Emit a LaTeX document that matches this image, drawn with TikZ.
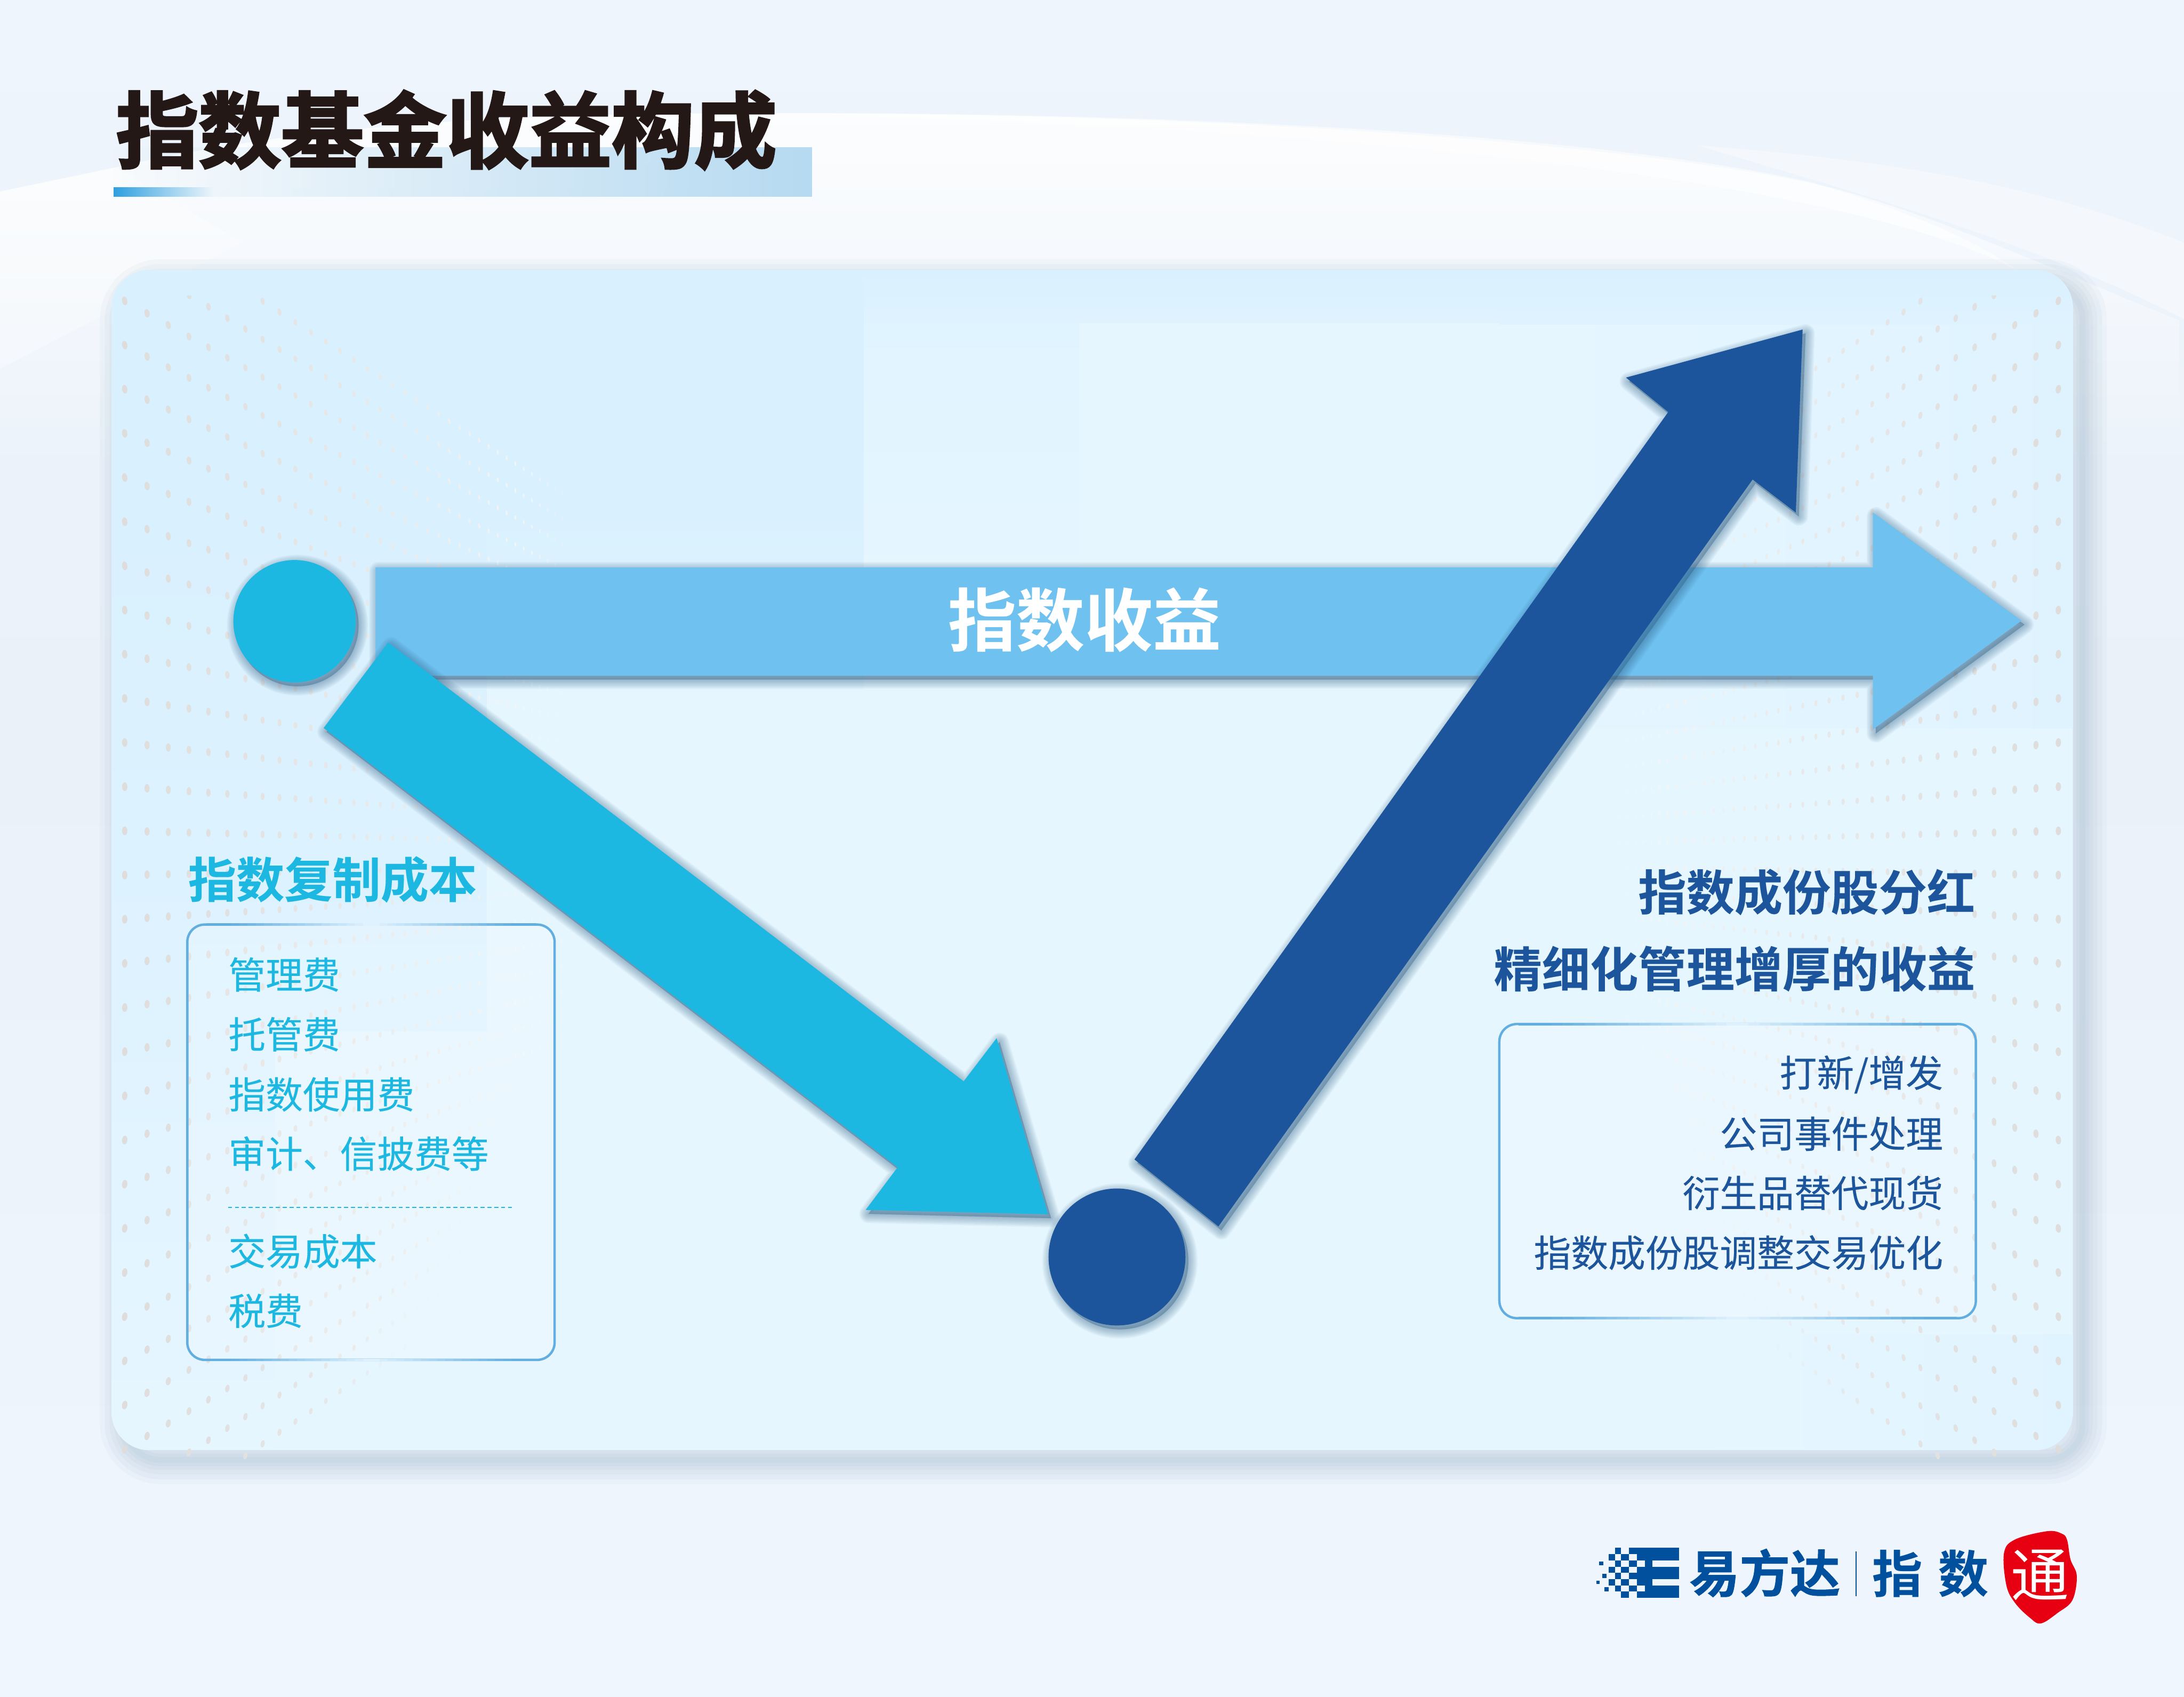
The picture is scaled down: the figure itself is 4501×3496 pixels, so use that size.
\documentclass[tikz,border=0pt]{standalone}
\usepackage{fontspec}
\usetikzlibrary{fadings,calc}
\newfontfamily\cjk{Noto Sans CJK SC}
\newfontfamily\cjkmed[FakeBold=0.25]{Noto Sans CJK SC}
\newfontfamily\cjkbold[FakeBold=0.2]{Noto Sans CJK SC Bold}
\newfontfamily\cjkheavy[FakeBold=2.6]{Noto Sans CJK SC Bold}
\newfontfamily\cjklogo[FakeBold=1]{Noto Sans CJK SC Bold}
\definecolor{arrowlight}{HTML}{6FC1F0}
\definecolor{arrowcyan}{HTML}{1DB8E2}
\definecolor{arrowblue}{HTML}{1C559B}
\definecolor{inkblack}{HTML}{231815}
\definecolor{logoblue}{HTML}{00509E}
\definecolor{sealred}{HTML}{E60012}
\definecolor{shadowc}{HTML}{2F5F85}
\definecolor{boxedge}{HTML}{63AEE0}
\definecolor{dotA}{HTML}{DEDDDC}
\definecolor{dotB}{HTML}{F3F7F8}
\definecolor{pageTop}{HTML}{EEF5FC}
\definecolor{pageMid}{HTML}{EBF1F9}
\definecolor{pageBot}{HTML}{F0F6FE}
\definecolor{panelBase}{HTML}{E6F6FF}
\definecolor{panelTile}{HTML}{D9F0FE}
\definecolor{panelTileB}{HTML}{DFF3FF}
\definecolor{panelTileC}{HTML}{E0F4FF}
\definecolor{panelShadow}{HTML}{4F7C9E}
\definecolor{edgefade}{HTML}{E2F3FE}
\definecolor{titlebar}{HTML}{B6DAF1}
\definecolor{smallbar}{HTML}{2E9FE0}
\tikzfading[name=fadeRtoL, left color=transparent!100, right color=transparent!0]
\tikzfading[name=fadeLtoR, left color=transparent!0, right color=transparent!100]
\tikzfading[name=fadeDown, top color=transparent!0, bottom color=transparent!100]
\tikzset{
  headL/.style={inner sep=0pt, anchor=west, font=\cjkbold\fontsize{28.2}{34}\selectfont},
  headR/.style={inner sep=0pt, anchor=east, font=\cjkbold\fontsize{28.2}{34}\selectfont},
  itemL/.style={inner sep=0pt, anchor=west, text=arrowcyan, font=\cjkmed\fontsize{21.8}{26}\selectfont},
  itemR/.style={inner sep=0pt, anchor=east, text=arrowblue, font=\cjkmed\fontsize{21.8}{26}\selectfont},
  dotball/.style={circle, inner sep=0pt},
  boxline/.style={draw=boxedge, line width=1.4pt, rounded corners=0.36cm, fill=white, fill opacity=0.18},
  logotext/.style={inner sep=0pt, text=logoblue},
}
\newcommand{\softshadow}[1]{%
  \foreach \w in {38,33,28,23,18,13,8,3}{%
    \path[transform canvas={xshift=0.06cm,yshift=-0.08cm}, fill=shadowc, draw=shadowc, line join=round, opacity=0.06,
          line width=\w*0.2845pt] #1;}%
}
\newcommand{\lgb}[4]{\fill[logoblue] (#1,#2) rectangle (#3,#4);}
% box edge that pales toward its middle: x1, x2, y
\newcommand{\edgeseg}[3]{%
  \foreach \k in {0,...,39}{%
    \pgfmathsetmacro\pa{#1+(#2-#1)/40*\k}%
    \pgfmathsetmacro\pb{#1+(#2-#1)/40*(\k+1)+1}%
    \pgfmathsetmacro\pp{min(100,abs(\k-19.5)/19.5*115)}%
    \fill[boxedge!\pp!edgefade] (\pa,#3-2.6) rectangle (\pb,#3+2.6);}%
}
\begin{document}
\begin{tikzpicture}[x=0.01cm,y=-0.01cm]
\path[use as bounding box,clip] (0,0) rectangle (4501,3496);

% ---------- page background
\shade[top color=pageTop, bottom color=pageMid] (0,0) rectangle (4501,1500);
\shade[top color=pageMid, bottom color=pageBot] (0,1500) rectangle (4501,3496);
% white swoosh
\fill[white, opacity=0.85, path fading=fadeDown]
  (0,395) -- (240,345) .. controls (700,240) and (1200,233) .. (1607,233)
  .. controls (2500,233) and (3300,290) .. (3731,375)
  .. controls (3950,420) and (4250,560) .. (4501,660)
  -- (4501,950) -- (0,950) -- cycle;
\fill[white, opacity=0.6]
  (1607,233) .. controls (2500,233) and (3300,280) .. (3731,375)
  .. controls (3950,440) and (4080,500) .. (4161,560)
  .. controls (3950,440) and (3300,280) .. (1607,233) -- cycle;
\fill[white, opacity=0.4]
  (3500,300) .. controls (3800,390) and (4200,500) .. (4501,658)
  -- (4501,500) .. controls (4200,380) and (3900,330) .. (3500,300) -- cycle;
\fill[white, opacity=0.3] (0,395) -- (240,345) -- (500,500) -- (0,760) -- cycle;

% ---------- panel shadow
\foreach \w in {100,80,60,42,26,12}{
  \draw[panelShadow, opacity=0.04, line width=\w*0.2845pt, rounded corners=0.75cm]
    (256,584) rectangle (4292,3008);
}
% ---------- panel
\begin{scope}
\clip[rounded corners=0.78cm] (230,556) rectangle (4272,2988);
\fill[panelBase] (230,556) rectangle (4272,2988);
\fill[panelTile] (230,556) rectangle (1780,1050);
\shade[top color=panelTile, bottom color=panelTileB] (230,1050) rectangle (1003,2125);
\shade[top color=panelTile, bottom color=panelTileC] (1003,1050) rectangle (1780,1420);
\shade[top color=panelTileB, bottom color=panelBase] (230,2125) rectangle (567,2988);
\shade[top color=panelTile, bottom color=panelTileB] (1780,556) rectangle (3090,665);
\shade[top color=panelTile, bottom color=panelTileB] (3090,556) rectangle (4272,670);
\shade[top color=panelTileC, bottom color=panelBase] (1780,665) rectangle (2224,1300);
\shade[left color=panelBase, right color=panelTileB] (3090,670) rectangle (4272,1500);
\shade[left color=panelBase, right color=panelTileC] (3530,2750) rectangle (4272,2988);
\end{scope}

% ---------- dot pattern
\begin{scope}
\clip (200,609) rectangle (4300,3006);
\foreach \sd in {0,1}{
  \foreach \j in {-2,...,28}{
    \foreach \i in {0,...,34}{
      \pgfmathsetmacro\ff{1/(1+0.0228*\i)}
      \pgfmathsetmacro\yy{1765+(620+91*\j-1765)*\ff}
      \pgfmathsetmacro\imax{\j>20 ? 36-(\j-20)*2.2 : 36}
      \pgfmathsetmacro\al{\i>=\imax ? 0 : min(1,(\imax-\i)/8)}
      \pgfmathsetmacro\tt{min(100,\i*100/30)}
      \ifdim\al pt>0.02pt
        \ifdim\yy pt>590pt
          \ifdim\yy pt<3030pt
            \pgfmathsetmacro\xx{\sd==0 ? 2323-2066*\ff : 2176+2066*\ff}
            \pgfmathsetmacro\rx{5.5*\ff*\ff}
            \pgfmathsetmacro\ry{9*pow(\ff,1.2)}
            \pgfmathsetmacro\rot{(1765-\yy)/1145*12*(\sd==0 ? 1 : -1)}
            \fill[fill=dotB!\tt!dotA, opacity=\al] (\xx,\yy) circle[x radius=\rx, y radius=\ry, rotate=\rot];
          \fi
        \fi
      \fi
    }
  }
}
\end{scope}

% ---------- title
\fill[titlebar, path fading=fadeRtoL] (234,303) rectangle (1675,405);
\fill[smallbar, path fading=fadeLtoR] (234,386) rectangle (440,405);
\node[inner sep=0pt, text=inkblack, font=\cjkheavy\fontsize{48.4}{58}\selectfont] (title) at (920,268) {指数基金收益构成};

% ---------- left and right boxes
\path[boxline] (386,1905) rectangle (1143,2802);
\edgeseg{425}{1105}{1905}
\edgeseg{425}{1105}{2802}
\path[boxline] (3090,2110) rectangle (4072,2716);
\edgeseg{3130}{4032}{2110}
\edgeseg{3130}{4032}{2716}

\node[headL, text=arrowcyan] (hl) at (387,1812) {指数复制成本};
\node[itemL] (l1) at (470,2008) {管理费};
\node[itemL] (l2) at (470,2131) {托管费};
\node[itemL] (l3) at (470,2255) {指数使用费};
\node[itemL] (l4) at (470,2377) {审计、信披费等};
\coordinate (dashA) at (470,2488); \coordinate (dashB) at (1060,2488);
\draw[arrowcyan, line width=0.45pt, dash pattern=on 2.4pt off 1.6pt] (dashA) -- (dashB);
\node[itemL] (l5) at (470,2578) {交易成本};
\node[itemL] (l6) at (470,2701) {税费};

\node[headR, text=arrowblue] (hr1) at (4071,1838) {指数成份股分红};
\node[headR, text=arrowblue] (hr2) at (4071,1996) {精细化管理增厚的收益};
\node[itemR] (r1) at (4005,2214) {打新/增发};
\node[itemR] (r2) at (4005,2336) {公司事件处理};
\node[itemR] (r3) at (4005,2458) {衍生品替代现货};
\node[itemR] (r4) at (4005,2581) {指数成份股调整交易优化};

% ---------- arrow vertices
\coordinate (hA) at (774,1169);  \coordinate (hB) at (3860,1169); \coordinate (hC) at (3860,1056);
\coordinate (hTip) at (4166,1279); \coordinate (hD) at (3860,1503); \coordinate (hE) at (3860,1392);
\coordinate (hF) at (774,1392);
\coordinate (cA) at (800,1324);  \coordinate (cB) at (1986,2228); \coordinate (cC) at (2054,2139);
\coordinate (cTip) at (2160,2502); \coordinate (cD) at (1784,2493); \coordinate (cE) at (1850,2405);
\coordinate (cF) at (667,1500);
\coordinate (bA) at (2338,2389); \coordinate (bB) at (3438,849);  \coordinate (bC) at (3351,778);
\coordinate (bTip) at (3715,679); \coordinate (bD) at (3701,1056); \coordinate (bE) at (3612,988);
\coordinate (bF) at (2511,2527);
\coordinate (startPt) at (607,1280);
\coordinate (lowPt) at (2302,2590);

% ---------- horizontal arrow
\softshadow{(hA) -- (hB) -- (hC) -- (hTip) -- (hD) -- (hE) -- (hF) -- cycle}
\fill[arrowlight] (hA) -- (hB) -- (hC) -- (hTip) -- (hD) -- (hE) -- (hF) -- cycle;
\node[inner sep=0pt, text=white, font=\cjkbold\fontsize{40}{48}\selectfont] (gain) at (2235,1277) {指数收益};

% ---------- start circle
\softshadow{(startPt) circle (126)}
\node[dotball, fill=arrowcyan, minimum size=2.52cm] (startc) at (startPt) {};

% ---------- cyan arrow
\softshadow{(cA) -- (cB) -- (cC) -- (cTip) -- (cD) -- (cE) -- (cF) -- cycle}
\fill[arrowcyan] (cA) -- (cB) -- (cC) -- (cTip) -- (cD) -- (cE) -- (cF) -- cycle;

% ---------- low circle
\softshadow{(lowPt) circle (141)}
\node[dotball, fill=arrowblue, minimum size=2.82cm] (lowc) at (lowPt) {};

% ---------- blue arrow
\softshadow{(bA) -- (bB) -- (bC) -- (bTip) -- (bD) -- (bE) -- (bF) -- cycle}
\fill[arrowblue] (bA) -- (bB) -- (bC) -- (bTip) -- (bD) -- (bE) -- (bF) -- cycle;

% ---------- logo
\begin{scope}[shift={(3280,3180)},x=0.00333cm,y=-0.00333cm]
\lgb{144}{28}{183}{67}\lgb{232}{28}{541}{67}
\lgb{106}{67}{144}{106}\lgb{183}{67}{232}{106}\lgb{280}{67}{541}{106}
\lgb{144}{106}{183}{144}\lgb{232}{106}{280}{144}\lgb{329}{106}{377}{144}\lgb{47}{113}{72}{137}
\lgb{106}{144}{144}{183}\lgb{183}{144}{232}{183}\lgb{280}{144}{541}{183}
\lgb{144}{183}{183}{221}\lgb{232}{183}{541}{221}\lgb{67}{190}{92}{214}
\lgb{106}{221}{144}{260}\lgb{183}{221}{232}{260}\lgb{280}{221}{377}{260}\lgb{29}{231}{51}{252}
\lgb{144}{260}{183}{298}\lgb{232}{260}{280}{298}\lgb{329}{260}{541}{298}\lgb{79}{272}{106}{298}
\lgb{183}{298}{232}{337}\lgb{280}{298}{541}{337}
\end{scope}
\node[logotext, font=\cjklogo\fontsize{29.5}{34}\selectfont] (brand) at (3637,3241) {易方达};
\coordinate (sepA) at (3825,3197); \coordinate (sepB) at (3825,3289);
\draw[logoblue, line width=0.7pt] (sepA) -- (sepB);
\node[logotext, font=\cjkbold\fontsize{29.5}{34}\selectfont] (zhi) at (3910,3242) {指};
\node[logotext, font=\cjkbold\fontsize{29.5}{34}\selectfont] (shu) at (4046,3242) {数};
\fill[sealred] plot[smooth cycle, tension=0.6] coordinates {(4219,3155) (4249,3160) (4260,3173) (4267,3213) (4280,3247) (4271,3297) (4241,3323) (4206,3345) (4183,3333) (4153,3303) (4135,3267) (4130,3200) (4153,3172)};
\node[inner sep=0pt, text=white, font=\cjk\fontsize{34}{40}\selectfont] (tong) at (4204,3245) {通};
\end{tikzpicture}
\end{document}
